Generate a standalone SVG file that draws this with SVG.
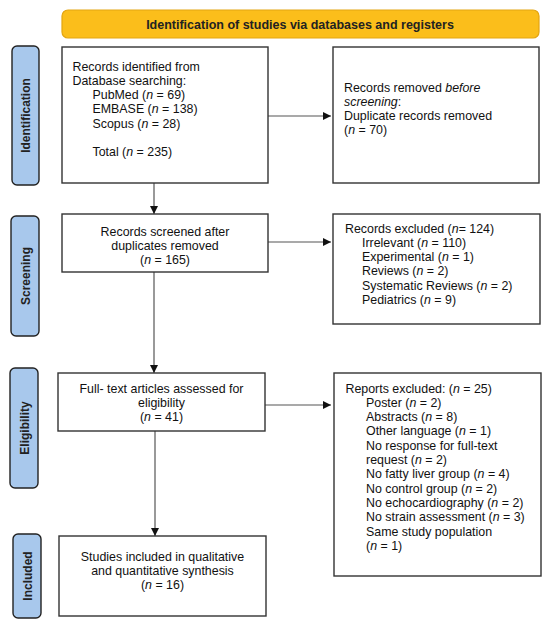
<svg xmlns="http://www.w3.org/2000/svg" width="550" height="629" viewBox="0 0 550 629">
<defs>
<style>
.box{fill:#fff;stroke:#333;stroke-width:1.4}
.side{fill:#A8C8EC;stroke:#222;stroke-width:1.4}
.hdr{fill:#FBBE1B;stroke:#E3A512;stroke-width:1.2}
.t{font-family:"Liberation Sans",Arial,sans-serif;font-size:12.4px;fill:#111}
.c{text-anchor:middle}
.b{font-family:"Liberation Sans",Arial,sans-serif;font-weight:bold;font-size:12px;fill:#222;text-anchor:middle}
.h{font-size:12.5px}
.ln{stroke:#555;stroke-width:1.2;fill:none}
.i{font-style:italic}
</style>
<marker id="ah" viewBox="0 0 10 10" refX="10" refY="5" markerWidth="8" markerHeight="8" markerUnits="userSpaceOnUse" orient="auto">
<path d="M0,0 L10,5 L0,10 z" fill="#111"/>
</marker>
</defs>
<rect width="550" height="629" fill="#fff"/>

<g id="header">
<rect class="hdr" x="62" y="10" width="477" height="28" rx="6"/>
<text class="b h" x="300" y="28.5">Identification of studies via databases and registers</text>
</g>

<g id="label-identification">
<rect class="side" x="12" y="46" width="27" height="139" rx="5"/>
<text class="b" transform="translate(29.5,115.5) rotate(-90)">Identification</text>
</g>
<g id="label-screening">
<rect class="side" x="11" y="216" width="28" height="120" rx="5"/>
<text class="b" transform="translate(29.5,276) rotate(-90)">Screening</text>
</g>
<g id="label-eligibility">
<rect class="side" x="10" y="368" width="28" height="120" rx="5"/>
<text class="b" transform="translate(28.5,428) rotate(-90)">Eligibility</text>
</g>
<g id="label-included">
<rect class="side" x="13" y="534" width="28" height="84" rx="5"/>
<text class="b" transform="translate(31.5,576) rotate(-90)">Included</text>
</g>

<g id="connectors">
<line class="ln" x1="154" y1="183" x2="154" y2="214" marker-end="url(#ah)"/>
<line class="ln" x1="154" y1="272" x2="154" y2="373" marker-end="url(#ah)"/>
<line class="ln" x1="155" y1="431" x2="155" y2="536" marker-end="url(#ah)"/>
<line class="ln" x1="268" y1="116" x2="331" y2="116" marker-end="url(#ah)"/>
<line class="ln" x1="268" y1="242" x2="331" y2="242" marker-end="url(#ah)"/>
<line class="ln" x1="265" y1="405" x2="331" y2="405" marker-end="url(#ah)"/>
</g>

<g id="records-identified">
<rect class="box" x="62" y="47" width="206" height="136"/>
<text class="t" x="72.5" y="70.5">Records identified from</text>
<text class="t" x="72.5" y="84.8">Database searching:</text>
<text class="t" x="92.5" y="99.1">PubMed (<tspan class="i">n</tspan> = 69)</text>
<text class="t" x="92.5" y="113.4">EMBASE (<tspan class="i">n</tspan> = 138)</text>
<text class="t" x="92.5" y="127.7">Scopus (<tspan class="i">n</tspan> = 28)</text>
<text class="t" x="92.5" y="156.3">Total (<tspan class="i">n</tspan> = 235)</text>
</g>

<g id="records-removed">
<rect class="box" x="333" y="47" width="206" height="136"/>
<text class="t" x="344" y="91.5">Records removed <tspan class="i">before</tspan></text>
<text class="t" x="344" y="105.8"><tspan class="i">screening</tspan>:</text>
<text class="t" x="344" y="120.1">Duplicate records removed</text>
<text class="t" x="344" y="134.4">(<tspan class="i">n</tspan> = 70)</text>
</g>

<g id="records-screened">
<rect class="box" x="62" y="214" width="206" height="58"/>
<text class="t c" x="165" y="235.5">Records screened after</text>
<text class="t c" x="165" y="249.8">duplicates removed</text>
<text class="t c" x="165" y="264.1">(<tspan class="i">n</tspan> = 165)</text>
</g>

<g id="records-excluded">
<rect class="box" x="333" y="214" width="207" height="110"/>
<text class="t" x="345" y="232.5">Records excluded (<tspan class="i">n</tspan>= 124)</text>
<text class="t" x="362" y="246.8">Irrelevant (<tspan class="i">n</tspan> = 110)</text>
<text class="t" x="362" y="261.1">Experimental (<tspan class="i">n</tspan> = 1)</text>
<text class="t" x="362" y="275.4">Reviews (<tspan class="i">n</tspan> = 2)</text>
<text class="t" x="362" y="289.7">Systematic Reviews (<tspan class="i">n</tspan> = 2)</text>
<text class="t" x="362" y="304">Pediatrics (<tspan class="i">n</tspan> = 9)</text>
</g>

<g id="fulltext-assessed">
<rect class="box" x="58" y="373" width="207" height="58"/>
<text class="t c" x="161.5" y="392.5">Full- text articles assessed for</text>
<text class="t c" x="161.5" y="406.8">eligibility</text>
<text class="t c" x="161.5" y="421.1">(<tspan class="i">n</tspan> = 41)</text>
</g>

<g id="reports-excluded">
<rect class="box" x="334" y="373" width="207" height="203"/>
<text class="t" x="345.5" y="392.5">Reports excluded: (<tspan class="i">n</tspan> = 25)</text>
<text class="t" x="366" y="406.8">Poster (<tspan class="i">n</tspan> = 2)</text>
<text class="t" x="366" y="421.1">Abstracts (<tspan class="i">n</tspan> = 8)</text>
<text class="t" x="366" y="435.4">Other language (<tspan class="i">n</tspan> = 1)</text>
<text class="t" x="366" y="449.7">No response for full-text</text>
<text class="t" x="366" y="464">request (<tspan class="i">n</tspan> = 2)</text>
<text class="t" x="366" y="478.3">No fatty liver group (<tspan class="i">n</tspan> = 4)</text>
<text class="t" x="366" y="492.6">No control group (<tspan class="i">n</tspan> = 2)</text>
<text class="t" x="366" y="506.9">No echocardiography (<tspan class="i">n</tspan> = 2)</text>
<text class="t" x="366" y="521.2">No strain assessment (<tspan class="i">n</tspan> = 3)</text>
<text class="t" x="366" y="535.5">Same study population</text>
<text class="t" x="366" y="549.8">(<tspan class="i">n</tspan> = 1)</text>
</g>

<g id="studies-included">
<rect class="box" x="59" y="536" width="207" height="80"/>
<text class="t c" x="162.5" y="560.5">Studies included in qualitative</text>
<text class="t c" x="162.5" y="574.8">and quantitative synthesis</text>
<text class="t c" x="162.5" y="589.1">(<tspan class="i">n</tspan> = 16)</text>
</g>
</svg>
